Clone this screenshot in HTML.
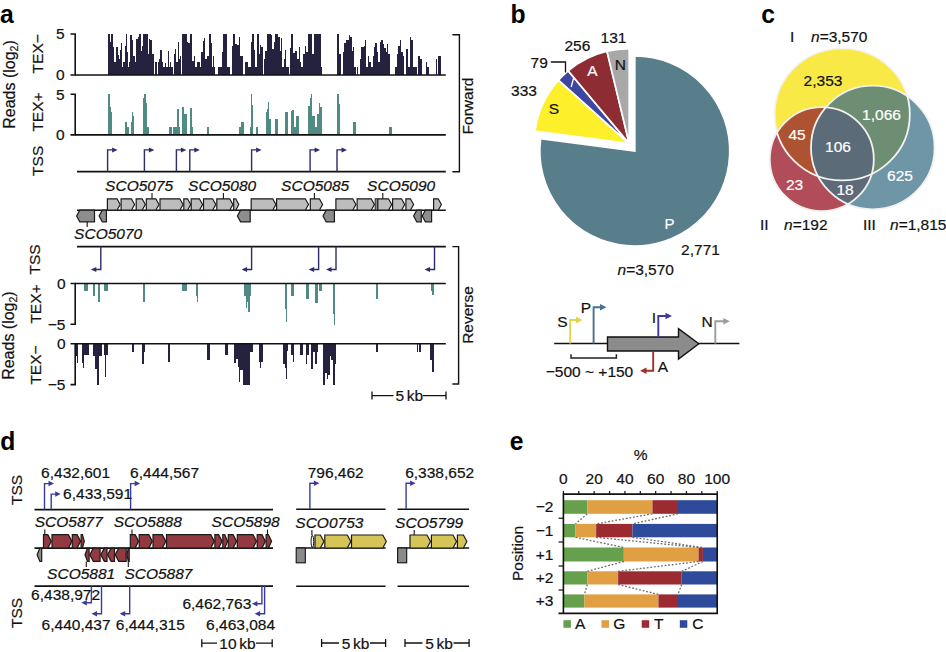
<!DOCTYPE html>
<html><head><meta charset="utf-8"><style>
html,body{margin:0;padding:0;background:#fff;}
svg{display:block;font-family:"Liberation Sans", sans-serif;}
</style></head><body>
<svg width="946" height="652" viewBox="0 0 946 652">
<rect width="946" height="652" fill="#fff"/>
<path d="M108 75.00h1v-41.00h-1zM109 75.00h1v-41.00h-1zM110 75.00h1v-33.46h-1zM111 75.00h1v-40.53h-1zM112 75.00h1v-40.53h-1zM113 75.00h1v-27.80h-1zM114 75.00h1v-13.20h-1zM115 75.00h1v-13.20h-1zM116 75.00h1v-28.28h-1zM117 75.00h1v-28.28h-1zM118 75.00h1v-20.26h-1zM119 75.00h1v-16.49h-1zM120 75.00h1v-25.45h-1zM121 75.00h1v-31.57h-1zM122 75.00h1v-8.01h-1zM123 75.00h1v-13.20h-1zM124 75.00h1v-13.20h-1zM125 75.00h1v-29.22h-1zM126 75.00h1v-41.00h-1zM127 75.00h1v-23.09h-1zM128 75.00h1v-8.01h-1zM129 75.00h1v-12.72h-1zM130 75.00h1v-40.06h-1zM131 75.00h1v-40.06h-1zM132 75.00h1v-35.34h-1zM133 75.00h1v-19.32h-1zM134 75.00h1v-19.32h-1zM135 75.00h1v-12.72h-1zM136 75.00h1v-36.29h-1zM137 75.00h1v-36.29h-1zM138 75.00h1v-38.17h-1zM139 75.00h1v-41.00h-1zM140 75.00h1v-41.00h-1zM141 75.00h1v-24.03h-1zM142 75.00h1v-28.75h-1zM143 75.00h1v-41.00h-1zM144 75.00h1v-41.00h-1zM145 75.00h1v-41.00h-1zM146 75.00h1v-41.00h-1zM147 75.00h1v-41.00h-1zM148 75.00h1v-20.74h-1zM149 75.00h1v-36.29h-1zM150 75.00h1v-35.34h-1zM151 75.00h1v-35.34h-1zM152 75.00h1v-21.21h-1zM153 75.00h1v-21.21h-1zM155 75.00h1v-12.72h-1zM156 75.00h1v-12.72h-1zM158 75.00h1v-13.20h-1zM159 75.00h1v-15.55h-1zM160 75.00h1v-25.45h-1zM161 75.00h1v-25.45h-1zM162 75.00h1v-12.72h-1zM163 75.00h1v-8.01h-1zM164 75.00h1v-8.01h-1zM165 75.00h1v-12.25h-1zM166 75.00h1v-8.01h-1zM167 75.00h1v-8.01h-1zM168 75.00h1v-23.56h-1zM169 75.00h1v-8.01h-1zM170 75.00h1v-12.72h-1zM171 75.00h1v-8.01h-1zM172 75.00h1v-8.01h-1zM174 75.00h1v-21.21h-1zM175 75.00h1v-25.92h-1zM176 75.00h1v-12.72h-1zM177 75.00h1v-12.72h-1zM178 75.00h1v-33.46h-1zM179 75.00h1v-16.49h-1zM180 75.00h1v-19.32h-1zM182 75.00h1v-41.00h-1zM183 75.00h1v-41.00h-1zM184 75.00h1v-41.00h-1zM185 75.00h1v-41.00h-1zM186 75.00h1v-41.00h-1zM187 75.00h1v-33.46h-1zM188 75.00h1v-32.05h-1zM189 75.00h1v-32.05h-1zM190 75.00h1v-41.00h-1zM191 75.00h1v-41.00h-1zM192 75.00h1v-13.67h-1zM193 75.00h1v-13.67h-1zM194 75.00h1v-18.85h-1zM195 75.00h1v-8.01h-1zM196 75.00h1v-8.01h-1zM197 75.00h1v-12.72h-1zM198 75.00h1v-12.72h-1zM199 75.00h1v-12.72h-1zM200 75.00h1v-8.01h-1zM201 75.00h1v-23.09h-1zM202 75.00h1v-23.09h-1zM203 75.00h1v-34.40h-1zM204 75.00h1v-37.23h-1zM205 75.00h1v-16.49h-1zM206 75.00h1v-16.49h-1zM207 75.00h1v-19.32h-1zM208 75.00h1v-19.32h-1zM209 75.00h1v-41.00h-1zM210 75.00h1v-41.00h-1zM211 75.00h1v-31.57h-1zM212 75.00h1v-8.01h-1zM213 75.00h1v-19.32h-1zM214 75.00h1v-8.01h-1zM218 75.00h1v-8.01h-1zM219 75.00h1v-8.01h-1zM220 75.00h1v-8.01h-1zM221 75.00h1v-8.01h-1zM222 75.00h1v-23.09h-1zM223 75.00h1v-41.00h-1zM224 75.00h1v-41.00h-1zM225 75.00h1v-41.00h-1zM226 75.00h1v-41.00h-1zM227 75.00h1v-8.01h-1zM228 75.00h1v-8.01h-1zM229 75.00h1v-8.01h-1zM232 75.00h1v-28.75h-1zM233 75.00h1v-41.00h-1zM234 75.00h1v-41.00h-1zM235 75.00h1v-30.63h-1zM236 75.00h1v-30.63h-1zM237 75.00h1v-30.16h-1zM238 75.00h1v-30.16h-1zM239 75.00h1v-37.70h-1zM240 75.00h1v-19.32h-1zM241 75.00h1v-19.32h-1zM242 75.00h1v-19.32h-1zM245 75.00h1v-12.72h-1zM246 75.00h1v-12.72h-1zM247 75.00h1v-12.72h-1zM248 75.00h1v-8.01h-1zM249 75.00h1v-8.01h-1zM250 75.00h1v-8.01h-1zM251 75.00h1v-32.99h-1zM252 75.00h1v-41.00h-1zM253 75.00h1v-41.00h-1zM254 75.00h1v-24.98h-1zM255 75.00h1v-8.01h-1zM256 75.00h1v-8.01h-1zM257 75.00h1v-41.00h-1zM258 75.00h1v-41.00h-1zM259 75.00h1v-21.21h-1zM260 75.00h1v-29.69h-1zM261 75.00h1v-27.80h-1zM262 75.00h1v-27.80h-1zM264 75.00h1v-15.55h-1zM265 75.00h1v-24.03h-1zM266 75.00h1v-24.03h-1zM267 75.00h1v-41.00h-1zM268 75.00h1v-41.00h-1zM269 75.00h1v-41.00h-1zM270 75.00h1v-41.00h-1zM271 75.00h1v-40.06h-1zM272 75.00h1v-25.92h-1zM273 75.00h1v-25.92h-1zM274 75.00h1v-32.52h-1zM275 75.00h1v-41.00h-1zM276 75.00h1v-41.00h-1zM277 75.00h1v-41.00h-1zM278 75.00h1v-38.17h-1zM279 75.00h1v-38.17h-1zM280 75.00h1v-24.03h-1zM281 75.00h1v-37.23h-1zM282 75.00h1v-8.01h-1zM283 75.00h1v-8.01h-1zM284 75.00h1v-15.55h-1zM285 75.00h1v-25.45h-1zM286 75.00h1v-8.01h-1zM287 75.00h1v-8.01h-1zM288 75.00h1v-8.01h-1zM290 75.00h1v-26.86h-1zM291 75.00h1v-41.00h-1zM292 75.00h1v-41.00h-1zM293 75.00h1v-22.15h-1zM294 75.00h1v-22.15h-1zM295 75.00h1v-24.03h-1zM296 75.00h1v-24.03h-1zM297 75.00h1v-15.55h-1zM298 75.00h1v-15.55h-1zM299 75.00h1v-28.28h-1zM300 75.00h1v-12.72h-1zM301 75.00h1v-8.01h-1zM302 75.00h1v-8.01h-1zM303 75.00h1v-21.21h-1zM304 75.00h1v-21.21h-1zM305 75.00h1v-28.75h-1zM306 75.00h1v-23.09h-1zM307 75.00h1v-23.09h-1zM308 75.00h1v-41.00h-1zM309 75.00h1v-41.00h-1zM310 75.00h1v-41.00h-1zM311 75.00h1v-41.00h-1zM312 75.00h1v-21.21h-1zM313 75.00h1v-21.21h-1zM314 75.00h1v-41.00h-1zM315 75.00h1v-41.00h-1zM316 75.00h1v-41.00h-1zM317 75.00h1v-41.00h-1zM318 75.00h1v-41.00h-1zM319 75.00h1v-41.00h-1zM320 75.00h1v-41.00h-1zM321 75.00h1v-8.01h-1zM337 75.00h1v-41.00h-1zM338 75.00h1v-41.00h-1zM339 75.00h1v-21.21h-1zM340 75.00h1v-21.21h-1zM343 75.00h1v-23.09h-1zM344 75.00h1v-31.57h-1zM345 75.00h1v-31.57h-1zM346 75.00h1v-34.87h-1zM347 75.00h1v-34.87h-1zM348 75.00h1v-34.87h-1zM349 75.00h1v-40.06h-1zM350 75.00h1v-38.17h-1zM351 75.00h1v-38.17h-1zM352 75.00h1v-24.03h-1zM353 75.00h1v-27.80h-1zM354 75.00h1v-8.01h-1zM355 75.00h1v-8.01h-1zM357 75.00h1v-7.59h-1zM360 75.00h1v-15.69h-1zM361 75.00h1v-27.84h-1zM362 75.00h1v-28.35h-1zM363 75.00h1v-28.35h-1zM364 75.00h1v-28.85h-1zM365 75.00h1v-34.93h-1zM366 75.00h1v-7.59h-1zM367 75.00h1v-7.59h-1zM368 75.00h1v-18.73h-1zM369 75.00h1v-12.65h-1zM370 75.00h1v-12.65h-1zM371 75.00h1v-7.59h-1zM372 75.00h1v-7.59h-1zM373 75.00h1v-18.73h-1zM374 75.00h1v-28.35h-1zM375 75.00h1v-31.89h-1zM376 75.00h1v-31.89h-1zM377 75.00h1v-23.28h-1zM378 75.00h1v-12.65h-1zM379 75.00h1v-12.65h-1zM380 75.00h1v-32.90h-1zM381 75.00h1v-35.43h-1zM382 75.00h1v-35.43h-1zM383 75.00h1v-30.88h-1zM384 75.00h1v-27.33h-1zM385 75.00h1v-27.33h-1zM386 75.00h1v-22.78h-1zM387 75.00h1v-31.38h-1zM388 75.00h1v-20.75h-1zM389 75.00h1v-20.75h-1zM395 75.00h1v-7.59h-1zM396 75.00h1v-7.59h-1zM397 75.00h1v-20.75h-1zM398 75.00h1v-28.85h-1zM399 75.00h1v-28.85h-1zM400 75.00h1v-35.43h-1zM401 75.00h1v-23.28h-1zM402 75.00h1v-23.28h-1zM403 75.00h1v-18.73h-1zM406 75.00h1v-25.81h-1zM407 75.00h1v-25.81h-1zM408 75.00h1v-7.59h-1zM409 75.00h1v-7.59h-1zM410 75.00h1v-37.96h-1zM411 75.00h1v-34.93h-1zM412 75.00h1v-34.93h-1zM413 75.00h1v-7.59h-1zM414 75.00h1v-7.59h-1zM415 75.00h1v-7.59h-1zM416 75.00h1v-7.59h-1zM418 75.00h1v-18.73h-1zM419 75.00h1v-18.73h-1zM420 75.00h1v-15.69h-1zM421 75.00h1v-15.69h-1zM426 75.00h1v-12.65h-1zM427 75.00h1v-7.59h-1zM428 75.00h1v-7.59h-1zM436 75.00h1v-15.69h-1zM438 75.00h1v-18.73h-1zM439 75.00h1v-18.73h-1zM440 75.00h1v-18.73h-1z" fill="#24223f" shape-rendering="crispEdges"/>
<path d="M108 134.90h1v-41.00h-1zM109 134.90h1v-41.00h-1zM110 134.90h1v-27.75h-1zM111 134.90h1v-23.34h-1zM125 134.90h1v-12.62h-1zM126 134.90h1v-12.62h-1zM127 134.90h1v-7.57h-1zM128 134.90h1v-7.57h-1zM131 134.90h1v-12.62h-1zM132 134.90h1v-23.34h-1zM133 134.90h1v-18.92h-1zM143 134.90h1v-36.58h-1zM144 134.90h1v-41.00h-1zM145 134.90h1v-41.00h-1zM146 134.90h1v-32.17h-1zM147 134.90h1v-7.57h-1zM148 134.90h1v-7.57h-1zM169 134.90h1v-7.57h-1zM170 134.90h1v-7.57h-1zM171 134.90h1v-7.57h-1zM173 134.90h1v-7.57h-1zM174 134.90h1v-7.57h-1zM175 134.90h1v-7.57h-1zM176 134.90h1v-7.57h-1zM177 134.90h1v-25.86h-1zM178 134.90h1v-25.86h-1zM179 134.90h1v-7.57h-1zM182 134.90h1v-27.75h-1zM183 134.90h1v-27.75h-1zM184 134.90h1v-20.82h-1zM185 134.90h1v-20.82h-1zM186 134.90h1v-20.82h-1zM190 134.90h1v-27.12h-1zM191 134.90h1v-27.12h-1zM192 134.90h1v-7.57h-1zM207 134.90h1v-7.57h-1zM208 134.90h1v-7.57h-1zM239 134.90h1v-7.57h-1zM240 134.90h1v-7.57h-1zM241 134.90h1v-12.62h-1zM242 134.90h1v-12.62h-1zM243 134.90h1v-12.62h-1zM250 134.90h1v-7.57h-1zM251 134.90h1v-41.00h-1zM252 134.90h1v-30.28h-1zM256 134.90h1v-7.57h-1zM257 134.90h1v-7.57h-1zM266 134.90h1v-23.34h-1zM267 134.90h1v-25.86h-1zM268 134.90h1v-32.80h-1zM269 134.90h1v-15.77h-1zM270 134.90h1v-15.77h-1zM275 134.90h1v-15.77h-1zM276 134.90h1v-15.77h-1zM277 134.90h1v-15.77h-1zM285 134.90h1v-22.71h-1zM286 134.90h1v-22.71h-1zM287 134.90h1v-22.71h-1zM291 134.90h1v-23.97h-1zM292 134.90h1v-25.23h-1zM293 134.90h1v-25.23h-1zM294 134.90h1v-7.57h-1zM295 134.90h1v-7.57h-1zM296 134.90h1v-18.92h-1zM297 134.90h1v-18.92h-1zM298 134.90h1v-18.92h-1zM308 134.90h1v-29.02h-1zM309 134.90h1v-29.02h-1zM310 134.90h1v-37.22h-1zM311 134.90h1v-41.00h-1zM312 134.90h1v-18.92h-1zM313 134.90h1v-18.92h-1zM314 134.90h1v-18.92h-1zM315 134.90h1v-8.20h-1zM316 134.90h1v-8.20h-1zM317 134.90h1v-20.82h-1zM318 134.90h1v-20.82h-1zM319 134.90h1v-32.17h-1zM320 134.90h1v-27.75h-1zM321 134.90h1v-27.75h-1zM337 134.90h1v-41.00h-1zM338 134.90h1v-41.00h-1zM339 134.90h1v-30.91h-1zM353 134.90h1v-12.62h-1zM354 134.90h1v-12.62h-1zM355 134.90h1v-12.62h-1zM389 134.90h1v-7.57h-1zM390 134.90h1v-7.57h-1zM391 134.90h1v-7.57h-1z" fill="#4f8a83" shape-rendering="crispEdges"/>
<path d="M84 283.50h1v7.86h-1zM85 283.50h1v7.86h-1zM86 283.50h1v7.86h-1zM87 283.50h1v7.86h-1zM93 283.50h1v12.29h-1zM94 283.50h1v12.29h-1zM98 283.50h1v18.63h-1zM99 283.50h1v18.63h-1zM104 283.50h1v7.86h-1zM105 283.50h1v7.86h-1zM106 283.50h1v7.86h-1zM107 283.50h1v7.86h-1zM143 283.50h1v18.63h-1zM144 283.50h1v18.63h-1zM182 283.50h1v7.86h-1zM183 283.50h1v7.86h-1zM184 283.50h1v7.86h-1zM185 283.50h1v7.86h-1zM186 283.50h1v7.86h-1zM196 283.50h1v12.29h-1zM197 283.50h1v18.63h-1zM244 283.50h1v12.29h-1zM245 283.50h1v12.29h-1zM246 283.50h1v24.33h-1zM247 283.50h1v18.63h-1zM248 283.50h1v28.13h-1zM249 283.50h1v28.13h-1zM250 283.50h1v12.29h-1zM285 283.50h1v25.60h-1zM286 283.50h1v38.90h-1zM291 283.50h1v12.29h-1zM292 283.50h1v12.29h-1zM293 283.50h1v12.29h-1zM306 283.50h1v15.88h-1zM307 283.50h1v15.88h-1zM308 283.50h1v15.88h-1zM315 283.50h1v19.84h-1zM316 283.50h1v19.84h-1zM317 283.50h1v19.84h-1zM319 283.50h1v7.94h-1zM320 283.50h1v7.94h-1zM321 283.50h1v7.94h-1zM333 283.50h1v30.96h-1zM334 283.50h1v41.28h-1zM376 283.50h1v15.88h-1zM377 283.50h1v15.88h-1zM431 283.50h1v7.94h-1zM432 283.50h1v11.91h-1zM433 283.50h1v11.91h-1z" fill="#4f8a83" shape-rendering="crispEdges"/>
<path d="M75 343.80h1v12.16h-1zM76 343.80h1v12.16h-1zM77 343.80h1v19.03h-1zM82 343.80h1v19.03h-1zM83 343.80h1v24.31h-1zM84 343.80h1v11.63h-1zM85 343.80h1v11.63h-1zM86 343.80h1v11.63h-1zM87 343.80h1v11.63h-1zM88 343.80h1v11.63h-1zM93 343.80h1v12.69h-1zM94 343.80h1v12.69h-1zM95 343.80h1v24.84h-1zM96 343.80h1v24.84h-1zM97 343.80h1v41.23h-1zM98 343.80h1v41.23h-1zM99 343.80h1v12.16h-1zM100 343.80h1v12.16h-1zM101 343.80h1v12.16h-1zM104 343.80h1v11.63h-1zM105 343.80h1v32.77h-1zM106 343.80h1v11.63h-1zM107 343.80h1v11.63h-1zM132 343.80h1v7.93h-1zM133 343.80h1v7.93h-1zM142 343.80h1v20.09h-1zM143 343.80h1v20.09h-1zM144 343.80h1v7.93h-1zM168 343.80h1v18.50h-1zM169 343.80h1v18.50h-1zM207 343.80h1v15.86h-1zM208 343.80h1v15.86h-1zM209 343.80h1v15.86h-1zM225 343.80h1v11.63h-1zM226 343.80h1v11.63h-1zM227 343.80h1v11.63h-1zM234 343.80h1v19.56h-1zM235 343.80h1v19.56h-1zM236 343.80h1v15.33h-1zM237 343.80h1v15.33h-1zM238 343.80h1v22.73h-1zM239 343.80h1v38.59h-1zM240 343.80h1v25.90h-1zM241 343.80h1v25.90h-1zM242 343.80h1v25.90h-1zM243 343.80h1v41.23h-1zM244 343.80h1v41.23h-1zM245 343.80h1v41.23h-1zM246 343.80h1v41.23h-1zM247 343.80h1v41.23h-1zM248 343.80h1v41.23h-1zM249 343.80h1v41.23h-1zM250 343.80h1v7.93h-1zM251 343.80h1v7.93h-1zM252 343.80h1v7.93h-1zM259 343.80h1v17.97h-1zM260 343.80h1v23.79h-1zM261 343.80h1v17.97h-1zM262 343.80h1v17.97h-1zM283 343.80h1v20.61h-1zM284 343.80h1v20.61h-1zM285 343.80h1v24.31h-1zM286 343.80h1v34.89h-1zM287 343.80h1v7.40h-1zM291 343.80h1v11.63h-1zM292 343.80h1v11.63h-1zM293 343.80h1v18.50h-1zM300 343.80h1v11.63h-1zM301 343.80h1v11.63h-1zM302 343.80h1v11.63h-1zM306 343.80h1v20.09h-1zM307 343.80h1v11.63h-1zM308 343.80h1v11.63h-1zM311 343.80h1v24.84h-1zM312 343.80h1v24.84h-1zM313 343.80h1v7.93h-1zM314 343.80h1v7.93h-1zM315 343.80h1v20.09h-1zM316 343.80h1v20.09h-1zM317 343.80h1v7.93h-1zM323 343.80h1v41.23h-1zM324 343.80h1v41.23h-1zM325 343.80h1v29.60h-1zM326 343.80h1v29.60h-1zM327 343.80h1v34.89h-1zM328 343.80h1v31.19h-1zM329 343.80h1v31.19h-1zM330 343.80h1v12.69h-1zM331 343.80h1v16.39h-1zM332 343.80h1v16.39h-1zM333 343.80h1v41.23h-1zM334 343.80h1v41.23h-1zM335 343.80h1v20.09h-1zM376 343.80h1v7.93h-1zM377 343.80h1v7.93h-1zM417 343.80h1v7.93h-1zM419 343.80h1v7.93h-1zM420 343.80h1v7.93h-1zM430 343.80h1v15.86h-1zM431 343.80h1v15.86h-1zM432 343.80h1v28.01h-1zM433 343.80h1v28.01h-1z" fill="#24223f" shape-rendering="crispEdges"/>
<path d="M70.5 34.0 H75.2 V75.0 H70.5" fill="none" stroke="#111" stroke-width="1.6"/>
<text x="64.5" y="39.3" font-size="15.5" text-anchor="end" fill="#111" stroke="#111" stroke-width="0.2"  style="">5</text>
<text x="64.5" y="80.3" font-size="15.5" text-anchor="end" fill="#111" stroke="#111" stroke-width="0.2"  style="">0</text>
<path d="M70.5 94.3 H75.2 V134.9 H70.5" fill="none" stroke="#111" stroke-width="1.6"/>
<text x="64.5" y="99.6" font-size="15.5" text-anchor="end" fill="#111" stroke="#111" stroke-width="0.2"  style="">5</text>
<text x="64.5" y="140.20000000000002" font-size="15.5" text-anchor="end" fill="#111" stroke="#111" stroke-width="0.2"  style="">0</text>
<path d="M70.5 283.5 H75.2 V324.3 H70.5" fill="none" stroke="#111" stroke-width="1.6"/>
<text x="65.5" y="288.8" font-size="15.5" text-anchor="end" fill="#111" stroke="#111" stroke-width="0.2"  style="">0</text>
<text x="65.5" y="329.6" font-size="15.5" text-anchor="end" fill="#111" stroke="#111" stroke-width="0.2"  style="">−5</text>
<path d="M70.5 343.8 H75.2 V384.6 H70.5" fill="none" stroke="#111" stroke-width="1.6"/>
<text x="65.5" y="349.1" font-size="15.5" text-anchor="end" fill="#111" stroke="#111" stroke-width="0.2"  style="">0</text>
<text x="65.5" y="389.90000000000003" font-size="15.5" text-anchor="end" fill="#111" stroke="#111" stroke-width="0.2"  style="">−5</text>
<line x1="75.2" y1="75.0" x2="445.8" y2="75.0" stroke="#111" stroke-width="1.6" />
<line x1="75.2" y1="134.9" x2="445.8" y2="134.9" stroke="#111" stroke-width="1.6" />
<line x1="75.2" y1="283.5" x2="445.8" y2="283.5" stroke="#111" stroke-width="1.6" />
<line x1="75.2" y1="343.8" x2="445.8" y2="343.8" stroke="#111" stroke-width="1.6" />
<line x1="77" y1="171.6" x2="445.8" y2="171.6" stroke="#111" stroke-width="1.6" />
<line x1="77" y1="246.6" x2="445.8" y2="246.6" stroke="#111" stroke-width="1.6" />
<line x1="77" y1="210.2" x2="445.8" y2="210.2" stroke="#111" stroke-width="1.6" />
<path d="M107.6 171.6 V149.9 H112.6" fill="none" stroke="#2c2b6c" stroke-width="1.4"/>
<path d="M112.1 147.4 L117.6 149.9 L112.1 152.4 Z" fill="#2c2b6c"/>
<path d="M144.4 171.6 V149.9 H149.4" fill="none" stroke="#2c2b6c" stroke-width="1.4"/>
<path d="M148.9 147.4 L154.4 149.9 L148.9 152.4 Z" fill="#2c2b6c"/>
<path d="M176.4 171.6 V149.9 H181.4" fill="none" stroke="#2c2b6c" stroke-width="1.4"/>
<path d="M180.9 147.4 L186.4 149.9 L180.9 152.4 Z" fill="#2c2b6c"/>
<path d="M189.8 171.6 V149.9 H194.8" fill="none" stroke="#2c2b6c" stroke-width="1.4"/>
<path d="M194.3 147.4 L199.8 149.9 L194.3 152.4 Z" fill="#2c2b6c"/>
<path d="M251.6 171.6 V149.9 H256.6" fill="none" stroke="#2c2b6c" stroke-width="1.4"/>
<path d="M256.1 147.4 L261.6 149.9 L256.1 152.4 Z" fill="#2c2b6c"/>
<path d="M310.1 171.6 V149.9 H315.1" fill="none" stroke="#2c2b6c" stroke-width="1.4"/>
<path d="M314.6 147.4 L320.1 149.9 L314.6 152.4 Z" fill="#2c2b6c"/>
<path d="M337.0 171.6 V149.9 H342.0" fill="none" stroke="#2c2b6c" stroke-width="1.4"/>
<path d="M341.5 147.4 L347.0 149.9 L341.5 152.4 Z" fill="#2c2b6c"/>
<path d="M100.8 246.6 V269.5 H95.8" fill="none" stroke="#2c2b6c" stroke-width="1.4"/>
<path d="M96.3 267.0 L90.8 269.5 L96.3 272.0 Z" fill="#2c2b6c"/>
<path d="M251.6 246.6 V269.5 H246.6" fill="none" stroke="#2c2b6c" stroke-width="1.4"/>
<path d="M247.1 267.0 L241.6 269.5 L247.1 272.0 Z" fill="#2c2b6c"/>
<path d="M318.6 246.6 V269.5 H313.6" fill="none" stroke="#2c2b6c" stroke-width="1.4"/>
<path d="M314.1 267.0 L308.6 269.5 L314.1 272.0 Z" fill="#2c2b6c"/>
<path d="M336.0 246.6 V269.5 H331.0" fill="none" stroke="#2c2b6c" stroke-width="1.4"/>
<path d="M331.5 267.0 L326.0 269.5 L331.5 272.0 Z" fill="#2c2b6c"/>
<path d="M434.5 246.6 V269.5 H429.5" fill="none" stroke="#2c2b6c" stroke-width="1.4"/>
<path d="M430.0 267.0 L424.5 269.5 L430.0 272.0 Z" fill="#2c2b6c"/>
<path d="M107.4 198.8 H117.0 L120.2 204.5 L117.0 210.2 H107.4 Z" fill="#bdbdbd" stroke="#1a1a1a" stroke-width="1.2" stroke-linejoin="miter"/>
<path d="M121.1 198.8 H131.4 L134.6 204.5 L131.4 210.2 H121.1 Z" fill="#bdbdbd" stroke="#1a1a1a" stroke-width="1.2" stroke-linejoin="miter"/>
<path d="M136.2 198.8 H142.1 L145.3 204.5 L142.1 210.2 H136.2 Z" fill="#bdbdbd" stroke="#1a1a1a" stroke-width="1.2" stroke-linejoin="miter"/>
<path d="M146.3 198.8 H155.8 L159.0 204.5 L155.8 210.2 H146.3 Z" fill="#bdbdbd" stroke="#1a1a1a" stroke-width="1.2" stroke-linejoin="miter"/>
<path d="M160.0 198.8 H179.8 L183.0 204.5 L179.8 210.2 H160.0 Z" fill="#bdbdbd" stroke="#1a1a1a" stroke-width="1.2" stroke-linejoin="miter"/>
<path d="M183.8 198.8 H187.5 L190.7 204.5 L187.5 210.2 H183.8 Z" fill="#bdbdbd" stroke="#1a1a1a" stroke-width="1.2" stroke-linejoin="miter"/>
<path d="M191.2 198.8 H199.4 L202.6 204.5 L199.4 210.2 H191.2 Z" fill="#bdbdbd" stroke="#1a1a1a" stroke-width="1.2" stroke-linejoin="miter"/>
<path d="M203.5 198.8 H212.6 L215.8 204.5 L212.6 210.2 H203.5 Z" fill="#bdbdbd" stroke="#1a1a1a" stroke-width="1.2" stroke-linejoin="miter"/>
<path d="M216.8 198.8 H229.7 L232.9 204.5 L229.7 210.2 H216.8 Z" fill="#bdbdbd" stroke="#1a1a1a" stroke-width="1.2" stroke-linejoin="miter"/>
<path d="M233.7 198.8 H235.7 L238.8 204.5 L235.7 210.2 H233.7 Z" fill="#bdbdbd" stroke="#1a1a1a" stroke-width="1.2" stroke-linejoin="miter"/>
<path d="M251.2 198.8 H272.7 L275.9 204.5 L272.7 210.2 H251.2 Z" fill="#bdbdbd" stroke="#1a1a1a" stroke-width="1.2" stroke-linejoin="miter"/>
<path d="M276.6 198.8 H305.3 L308.5 204.5 L305.3 210.2 H276.6 Z" fill="#bdbdbd" stroke="#1a1a1a" stroke-width="1.2" stroke-linejoin="miter"/>
<path d="M310.3 198.8 H319.4 L322.6 204.5 L319.4 210.2 H310.3 Z" fill="#bdbdbd" stroke="#1a1a1a" stroke-width="1.2" stroke-linejoin="miter"/>
<path d="M335.9 198.8 H352.7 L355.9 204.5 L352.7 210.2 H335.9 Z" fill="#bdbdbd" stroke="#1a1a1a" stroke-width="1.2" stroke-linejoin="miter"/>
<path d="M357.1 198.8 H371.2 L374.4 204.5 L371.2 210.2 H357.1 Z" fill="#bdbdbd" stroke="#1a1a1a" stroke-width="1.2" stroke-linejoin="miter"/>
<path d="M377.8 198.8 H388.5 L391.7 204.5 L388.5 210.2 H377.8 Z" fill="#bdbdbd" stroke="#1a1a1a" stroke-width="1.2" stroke-linejoin="miter"/>
<path d="M392.6 198.8 H401.5 L404.7 204.5 L401.5 210.2 H392.6 Z" fill="#bdbdbd" stroke="#1a1a1a" stroke-width="1.2" stroke-linejoin="miter"/>
<path d="M405.9 198.8 H410.4 L413.6 204.5 L410.4 210.2 H405.9 Z" fill="#bdbdbd" stroke="#1a1a1a" stroke-width="1.2" stroke-linejoin="miter"/>
<path d="M433.6 198.8 H438.2 L441.4 204.5 L438.2 210.2 H433.6 Z" fill="#bdbdbd" stroke="#1a1a1a" stroke-width="1.2" stroke-linejoin="miter"/>
<rect x="375.2" y="198.8" width="2" height="11.4" fill="#bdbdbd" stroke="#1a1a1a" stroke-width="1"/>
<path d="M94.5 210.2 H79.8 L76.6 216.0 L79.8 221.8 H94.5 Z" fill="#8d8d8d" stroke="#1a1a1a" stroke-width="1.2" stroke-linejoin="miter"/>
<path d="M106.4 210.2 H102.3 L99.1 216.0 L102.3 221.8 H106.4 Z" fill="#8d8d8d" stroke="#1a1a1a" stroke-width="1.2" stroke-linejoin="miter"/>
<path d="M250.2 210.2 H240.6 L237.4 216.0 L240.6 221.8 H250.2 Z" fill="#8d8d8d" stroke="#1a1a1a" stroke-width="1.2" stroke-linejoin="miter"/>
<path d="M334.4 210.2 H326.2 L323.0 216.0 L326.2 221.8 H334.4 Z" fill="#8d8d8d" stroke="#1a1a1a" stroke-width="1.2" stroke-linejoin="miter"/>
<path d="M421.3 210.2 H416.8 L413.6 216.0 L416.8 221.8 H421.3 Z" fill="#8d8d8d" stroke="#1a1a1a" stroke-width="1.2" stroke-linejoin="miter"/>
<path d="M431.6 210.2 H425.4 L422.2 216.0 L425.4 221.8 H431.6 Z" fill="#8d8d8d" stroke="#1a1a1a" stroke-width="1.2" stroke-linejoin="miter"/>
<line x1="152.0" y1="193" x2="152.0" y2="198.8" stroke="#111" stroke-width="1.1" />
<line x1="223.4" y1="193" x2="223.4" y2="198.8" stroke="#111" stroke-width="1.1" />
<line x1="314.4" y1="193" x2="314.4" y2="198.8" stroke="#111" stroke-width="1.1" />
<line x1="382.8" y1="193" x2="382.8" y2="198.8" stroke="#111" stroke-width="1.1" />
<line x1="87.2" y1="221.8" x2="87.2" y2="227" stroke="#111" stroke-width="1.1" />
<text x="105.1" y="190.5" font-size="15.5" text-anchor="start" fill="#111" stroke="#111" stroke-width="0.2"  style="font-style:italic">SCO5075</text>
<text x="188.1" y="190.5" font-size="15.5" text-anchor="start" fill="#111" stroke="#111" stroke-width="0.2"  style="font-style:italic">SCO5080</text>
<text x="281.1" y="190.5" font-size="15.5" text-anchor="start" fill="#111" stroke="#111" stroke-width="0.2"  style="font-style:italic">SCO5085</text>
<text x="367.1" y="190.5" font-size="15.5" text-anchor="start" fill="#111" stroke="#111" stroke-width="0.2"  style="font-style:italic">SCO5090</text>
<text x="74.1" y="239.3" font-size="15.5" text-anchor="start" fill="#111" stroke="#111" stroke-width="0.2"  style="font-style:italic">SCO5070</text>
<path d="M452.4 34.8 H459.4 V171.8 H452.4" fill="none" stroke="#111" stroke-width="1.4"/>
<path d="M452.4 246.6 H458.6 V384 H452.4" fill="none" stroke="#111" stroke-width="1.4"/>
<text x="0" y="0" font-size="15.5" text-anchor="middle" fill="#111" stroke="#111" stroke-width="0.2" transform="translate(473.3 106) rotate(-90)" style="">Forward</text>
<text x="0" y="0" font-size="15.5" text-anchor="middle" fill="#111" stroke="#111" stroke-width="0.2" transform="translate(473 315) rotate(-90)" style="">Reverse</text>
<path d="M372 395.6 H393.5 M423 395.6 H446 M372 391.6 V399.6 M446 391.6 V399.6" stroke="#111" stroke-width="1.3" fill="none"/>
<text x="409.25" y="401.1" font-size="15.5" text-anchor="middle" fill="#111" stroke="#111" stroke-width="0.2"  style="">5 <tspan dx="-1.6">kb</tspan></text>
<text x="0" y="0" font-size="15.5" text-anchor="middle" fill="#111" stroke="#111" stroke-width="0.2" transform="translate(43 53.8) rotate(-90)" style="">TEX−</text>
<text x="0" y="0" font-size="15.5" text-anchor="middle" fill="#111" stroke="#111" stroke-width="0.2" transform="translate(43 112) rotate(-90)" style="">TEX+</text>
<text x="0" y="0" font-size="15.5" text-anchor="middle" fill="#111" stroke="#111" stroke-width="0.2" transform="translate(43 160.8) rotate(-90)" style="">TSS</text>
<text x="0" y="0" font-size="15.5" text-anchor="middle" fill="#111" stroke="#111" stroke-width="0.2" transform="translate(40 259.5) rotate(-90)" style="">TSS</text>
<text x="0" y="0" font-size="15.5" text-anchor="middle" fill="#111" stroke="#111" stroke-width="0.2" transform="translate(40.5 304) rotate(-90)" style="">TEX+</text>
<text x="0" y="0" font-size="15.5" text-anchor="middle" fill="#111" stroke="#111" stroke-width="0.2" transform="translate(41 365) rotate(-90)" style="">TEX−</text>
<text x="0" y="0" font-size="16" text-anchor="middle" fill="#111" stroke="#111" stroke-width="0.2" transform="translate(14.6 84.5) rotate(-90)" style="">Reads (log<tspan font-size="10.5" dy="3">2</tspan><tspan dy="-3">)</tspan></text>
<text x="0" y="0" font-size="16" text-anchor="middle" fill="#111" stroke="#111" stroke-width="0.2" transform="translate(14.1 335.6) rotate(-90)" style="">Reads (log<tspan font-size="10.5" dy="3">2</tspan><tspan dy="-3">)</tspan></text>
<text transform="translate(0.0 22.7) scale(0.95 1)" font-size="26" font-weight="bold" fill="#000">a</text>
<text transform="translate(510.4 22.7) scale(0.95 1)" font-size="26" font-weight="bold" fill="#000">b</text>
<text transform="translate(761.3 22.7) scale(0.95 1)" font-size="26" font-weight="bold" fill="#000">c</text>
<text transform="translate(0.3 450.0) scale(0.95 1)" font-size="26" font-weight="bold" fill="#000">d</text>
<text transform="translate(509.8 450.0) scale(0.95 1)" font-size="26" font-weight="bold" fill="#000">e</text>
<path d="M634.80 151.00 L634.80 56.00 A95.0 95.0 0 1 1 540.61 138.60 Z" fill="#587d8b" stroke="#fff" stroke-width="1.7" stroke-linejoin="miter"/>
<path d="M629.20 143.60 L535.01 131.20 A95.0 95.0 0 0 1 558.47 80.18 Z" fill="#fdef2a" stroke="#fff" stroke-width="1.7" stroke-linejoin="miter"/>
<path d="M629.20 143.60 L558.47 80.18 A95.0 95.0 0 0 1 568.19 70.78 Z" fill="#3e47a0" stroke="#fff" stroke-width="1.7" stroke-linejoin="miter"/>
<path d="M629.20 143.60 L568.19 70.78 A95.0 95.0 0 0 1 606.98 51.24 Z" fill="#8e2c34" stroke="#fff" stroke-width="1.7" stroke-linejoin="miter"/>
<path d="M629.20 143.60 L606.98 51.24 A95.0 95.0 0 0 1 629.20 48.60 Z" fill="#a8a8a8" stroke="#fff" stroke-width="1.7" stroke-linejoin="miter"/>
<text x="669.5" y="229" font-size="15" text-anchor="middle" fill="#fff" stroke="#fff" stroke-width="0.2"  style="">P</text>
<text x="681.1" y="254.5" font-size="15.5" text-anchor="start" fill="#111" stroke="#111" stroke-width="0.2"  style="">2,771</text>
<text x="617.5" y="275" font-size="15.5" fill="#111" stroke="#111" stroke-width="0.2"><tspan style="font-style:italic">n</tspan>=3,570</text>
<text x="553.8" y="113.5" font-size="15.5" text-anchor="middle" fill="#111" stroke="#111" stroke-width="0.2"  style="">S</text>
<text x="592.5" y="76.3" font-size="15.5" text-anchor="middle" fill="#fff" stroke="#fff" stroke-width="0.2"  style="">A</text>
<text x="620.4" y="69.8" font-size="15.5" text-anchor="middle" fill="#111" stroke="#111" stroke-width="0.2"  style="">N</text>
<line x1="573.5" y1="78.5" x2="571.2" y2="87" stroke="#fff" stroke-width="1.3"/>
<text x="511.1" y="95.7" font-size="15.5" text-anchor="start" fill="#111" stroke="#111" stroke-width="0.2"  style="">333</text>
<text x="530.6" y="67.7" font-size="15.5" text-anchor="start" fill="#111" stroke="#111" stroke-width="0.2"  style="">79</text>
<text x="564.4" y="51.1" font-size="15.5" text-anchor="start" fill="#111" stroke="#111" stroke-width="0.2"  style="">256</text>
<text x="600.6" y="43.2" font-size="15.5" text-anchor="start" fill="#111" stroke="#111" stroke-width="0.2"  style="">131</text>
<path d="M550.8 62 H565.5 V72.6" fill="none" stroke="#111" stroke-width="1.3"/>
<line x1="554.2" y1="343.5" x2="739.4" y2="343.5" stroke="#111" stroke-width="1.6" />
<path d="M607.5 337 H678.5 V328.6 L698.8 343.8 L678.5 359 V351 H607.5 Z" fill="#8c8c8c" stroke="#111" stroke-width="1.4"/>
<path d="M570.2 343.5 V320 H577" fill="none" stroke="#e3d14c" stroke-width="1.9"/>
<path d="M576 316.7 L582.5 320 L576 323.3 Z" fill="#e3d14c"/>
<path d="M593.6 343.5 V307.2 H601" fill="none" stroke="#48708f" stroke-width="1.9"/>
<path d="M600 303.9 L606.5 307.2 L600 310.5 Z" fill="#48708f"/>
<path d="M658.3 337 V316 H666.5" fill="none" stroke="#40389a" stroke-width="1.9"/>
<path d="M665.5 312.7 L672.0 316 L665.5 319.3 Z" fill="#40389a"/>
<path d="M715.3 343.5 V321.2 H724.3" fill="none" stroke="#9c9c9c" stroke-width="1.9"/>
<path d="M723.3 317.9 L729.8 321.2 L723.3 324.5 Z" fill="#9c9c9c"/>
<path d="M653.2 351 V370.7 H646" fill="none" stroke="#a3302f" stroke-width="1.9"/>
<path d="M646.5 367.4 L640 370.7 L646.5 374 Z" fill="#a3302f"/>
<text x="562.5" y="327" font-size="15.5" text-anchor="middle" fill="#111" stroke="#111" stroke-width="0.2"  style="">S</text>
<text x="586" y="313" font-size="15.5" text-anchor="middle" fill="#111" stroke="#111" stroke-width="0.2"  style="">P</text>
<text x="654" y="323" font-size="15.5" text-anchor="middle" fill="#111" stroke="#111" stroke-width="0.2"  style="">I</text>
<text x="707" y="327" font-size="15.5" text-anchor="middle" fill="#111" stroke="#111" stroke-width="0.2"  style="">N</text>
<text x="663" y="372" font-size="15.5" text-anchor="middle" fill="#111" stroke="#111" stroke-width="0.2"  style="">A</text>
<path d="M571 354.3 V358 H616.4 V354.3" fill="none" stroke="#222" stroke-width="1.5"/>
<text x="589.5" y="376.5" font-size="15.5" text-anchor="middle" fill="#111" stroke="#111" stroke-width="0.2"  style="">−500 ~ +150</text>
<ellipse cx="842.2" cy="114.4" rx="67.6" ry="66" fill="#f8e947"/>
<defs><clipPath id="cY"><ellipse cx="842.2" cy="114.4" rx="67.6" ry="66"/></clipPath><clipPath id="cR"><circle cx="821.8" cy="159.2" r="52" /></clipPath></defs>
<circle cx="821.8" cy="159.2" r="52" fill="#b04d59"/>
<circle cx="872.8" cy="147.5" r="61.8" fill="#6e96a6"/>
<g clip-path="url(#cY)"><circle cx="821.8" cy="159.2" r="52" fill="#ad5331"/><circle cx="872.8" cy="147.5" r="61.8" fill="#6e8e73"/></g>
<g clip-path="url(#cR)"><circle cx="872.8" cy="147.5" r="61.8" fill="#5e6a7a"/></g>
<g clip-path="url(#cY)"><g clip-path="url(#cR)"><circle cx="872.8" cy="147.5" r="61.8" fill="#5b6b78"/></g></g>
<ellipse cx="842.2" cy="114.4" rx="67.6" ry="66" fill="none" stroke="#f3f3ef" stroke-width="1.8"/>
<circle cx="821.8" cy="159.2" r="52" fill="none" stroke="#f3f0ee" stroke-width="1.8"/>
<circle cx="872.8" cy="147.5" r="61.8" fill="none" stroke="#f0f2f2" stroke-width="1.8"/>
<text x="823" y="85.6" font-size="15.5" text-anchor="middle" fill="#111" stroke="#111" stroke-width="0.2"  style="">2,353</text>
<text x="881.5" y="120" font-size="15.5" text-anchor="middle" fill="#fff" stroke="#fff" stroke-width="0.2"  style="">1,066</text>
<text x="797" y="140" font-size="15.5" text-anchor="middle" fill="#fff" stroke="#fff" stroke-width="0.2"  style="">45</text>
<text x="838" y="151.8" font-size="15.5" text-anchor="middle" fill="#fff" stroke="#fff" stroke-width="0.2"  style="">106</text>
<text x="900" y="181.4" font-size="15.5" text-anchor="middle" fill="#fff" stroke="#fff" stroke-width="0.2"  style="">625</text>
<text x="794.5" y="189.7" font-size="15.5" text-anchor="middle" fill="#fff" stroke="#fff" stroke-width="0.2"  style="">23</text>
<text x="845" y="195" font-size="15.5" text-anchor="middle" fill="#fff" stroke="#fff" stroke-width="0.2"  style="">18</text>
<text x="790" y="41.5" font-size="15.5" fill="#111" stroke="#111" stroke-width="0.2">I<tspan x="811" style="font-style:italic">n</tspan>=3,570</text>
<text x="760" y="230" font-size="15.5" fill="#111" stroke="#111" stroke-width="0.2">II<tspan x="784" style="font-style:italic">n</tspan>=192</text>
<text x="863" y="230" font-size="15.5" fill="#111" stroke="#111" stroke-width="0.2">III<tspan x="890" style="font-style:italic">n</tspan>=1,815</text>
<line x1="34.5" y1="509.6" x2="273" y2="509.6" stroke="#111" stroke-width="1.6" />
<line x1="34.5" y1="548.1" x2="273" y2="548.1" stroke="#111" stroke-width="1.6" />
<line x1="34.5" y1="586.1" x2="273" y2="586.1" stroke="#111" stroke-width="1.6" />
<line x1="296.2" y1="509.2" x2="385.6" y2="509.2" stroke="#111" stroke-width="1.6" />
<line x1="296.2" y1="548" x2="385.6" y2="548" stroke="#111" stroke-width="1.6" />
<line x1="296.2" y1="586.2" x2="385.6" y2="586.2" stroke="#111" stroke-width="1.6" />
<line x1="397.6" y1="509.2" x2="469.1" y2="509.2" stroke="#111" stroke-width="1.6" />
<line x1="397.6" y1="548" x2="469.1" y2="548" stroke="#111" stroke-width="1.6" />
<line x1="397.6" y1="586.2" x2="469.1" y2="586.2" stroke="#111" stroke-width="1.6" />
<path d="M44.5 509.6 V483.6 H49.0" fill="none" stroke="#3b3b9b" stroke-width="1.4"/>
<path d="M48.5 480.85 L54.0 483.6 L48.5 486.35 Z" fill="#3b3b9b"/>
<path d="M51.2 509.6 V494.1 H55.7" fill="none" stroke="#3b3b9b" stroke-width="1.4"/>
<path d="M55.2 491.35 L60.7 494.1 L55.2 496.85 Z" fill="#3b3b9b"/>
<path d="M130.6 509.6 V483.6 H135.1" fill="none" stroke="#3b3b9b" stroke-width="1.4"/>
<path d="M134.6 480.85 L140.1 483.6 L134.6 486.35 Z" fill="#3b3b9b"/>
<path d="M309.9 509.2 V483.2 H314.4" fill="none" stroke="#3b3b9b" stroke-width="1.4"/>
<path d="M313.9 480.45 L319.4 483.2 L313.9 485.95 Z" fill="#3b3b9b"/>
<path d="M406.1 509.2 V483.2 H410.6" fill="none" stroke="#3b3b9b" stroke-width="1.4"/>
<path d="M410.1 480.45 L415.6 483.2 L410.1 485.95 Z" fill="#3b3b9b"/>
<path d="M91.4 586.1 V602.8 H86.4" fill="none" stroke="#3b3b9b" stroke-width="1.4"/>
<path d="M86.9 600.05 L81.4 602.8 L86.9 605.55 Z" fill="#3b3b9b"/>
<path d="M101.5 586.1 V613.7 H96.5" fill="none" stroke="#3b3b9b" stroke-width="1.4"/>
<path d="M97.0 610.95 L91.5 613.7 L97.0 616.45 Z" fill="#3b3b9b"/>
<path d="M129.7 586.1 V613.7 H124.69999999999999" fill="none" stroke="#3b3b9b" stroke-width="1.4"/>
<path d="M125.19999999999999 610.95 L119.69999999999999 613.7 L125.19999999999999 616.45 Z" fill="#3b3b9b"/>
<path d="M261.9 586.1 V603.8 H256.9" fill="none" stroke="#3b3b9b" stroke-width="1.4"/>
<path d="M257.4 601.05 L251.89999999999998 603.8 L257.4 606.55 Z" fill="#3b3b9b"/>
<path d="M264.6 586.1 V613.8 H259.6" fill="none" stroke="#3b3b9b" stroke-width="1.4"/>
<path d="M260.1 611.05 L254.60000000000002 613.8 L260.1 616.55 Z" fill="#3b3b9b"/>
<path d="M43.5 534.6 H47.8 L51.3 541.35 L47.8 548.1 H43.5 Z" fill="#923a40" stroke="#1a1a1a" stroke-width="1.2" stroke-linejoin="miter"/>
<path d="M52.0 534.6 H68.4 L71.9 541.35 L68.4 548.1 H52.0 Z" fill="#923a40" stroke="#1a1a1a" stroke-width="1.2" stroke-linejoin="miter"/>
<path d="M72.3 534.6 H77.1 L80.6 541.35 L77.1 548.1 H72.3 Z" fill="#923a40" stroke="#1a1a1a" stroke-width="1.2" stroke-linejoin="miter"/>
<path d="M81.1 534.6 H82.4 L84.3 541.35 L82.4 548.1 H81.1 Z" fill="#923a40" stroke="#1a1a1a" stroke-width="1.2" stroke-linejoin="miter"/>
<path d="M130.3 534.6 H135.1 L138.6 541.35 L135.1 548.1 H130.3 Z" fill="#923a40" stroke="#1a1a1a" stroke-width="1.2" stroke-linejoin="miter"/>
<path d="M139.2 534.6 H148.8 L152.3 541.35 L148.8 548.1 H139.2 Z" fill="#923a40" stroke="#1a1a1a" stroke-width="1.2" stroke-linejoin="miter"/>
<path d="M153.0 534.6 H162.3 L165.8 541.35 L162.3 548.1 H153.0 Z" fill="#923a40" stroke="#1a1a1a" stroke-width="1.2" stroke-linejoin="miter"/>
<path d="M166.5 534.6 H210.8 L214.3 541.35 L210.8 548.1 H166.5 Z" fill="#923a40" stroke="#1a1a1a" stroke-width="1.2" stroke-linejoin="miter"/>
<path d="M214.9 534.6 H218.6 L222.1 541.35 L218.6 548.1 H214.9 Z" fill="#923a40" stroke="#1a1a1a" stroke-width="1.2" stroke-linejoin="miter"/>
<path d="M222.8 534.6 H224.7 L227.6 541.35 L224.7 548.1 H222.8 Z" fill="#923a40" stroke="#1a1a1a" stroke-width="1.2" stroke-linejoin="miter"/>
<path d="M228.3 534.6 H233.1 L236.6 541.35 L233.1 548.1 H228.3 Z" fill="#923a40" stroke="#1a1a1a" stroke-width="1.2" stroke-linejoin="miter"/>
<path d="M237.3 534.6 H253.0 L256.5 541.35 L253.0 548.1 H237.3 Z" fill="#923a40" stroke="#1a1a1a" stroke-width="1.2" stroke-linejoin="miter"/>
<path d="M257.2 534.6 H261.9 L265.4 541.35 L261.9 548.1 H257.2 Z" fill="#923a40" stroke="#1a1a1a" stroke-width="1.2" stroke-linejoin="miter"/>
<path d="M266.1 534.6 H268.3 L271.6 541.35 L268.3 548.1 H266.1 Z" fill="#923a40" stroke="#1a1a1a" stroke-width="1.2" stroke-linejoin="miter"/>
<path d="M89.1 548.1 H87.5 L85.0 554.75 L87.5 561.4 H89.1 Z" fill="#923a40" stroke="#1a1a1a" stroke-width="1.2" stroke-linejoin="miter"/>
<path d="M100.1 548.1 H93.3 L89.8 554.75 L93.3 561.4 H100.1 Z" fill="#923a40" stroke="#1a1a1a" stroke-width="1.2" stroke-linejoin="miter"/>
<path d="M107.0 548.1 H104.3 L100.8 554.75 L104.3 561.4 H107.0 Z" fill="#923a40" stroke="#1a1a1a" stroke-width="1.2" stroke-linejoin="miter"/>
<path d="M114.5 548.1 H111.1 L107.6 554.75 L111.1 561.4 H114.5 Z" fill="#923a40" stroke="#1a1a1a" stroke-width="1.2" stroke-linejoin="miter"/>
<path d="M126.2 548.1 H118.7 L115.2 554.75 L118.7 561.4 H126.2 Z" fill="#923a40" stroke="#1a1a1a" stroke-width="1.2" stroke-linejoin="miter"/>
<path d="M129.2 548.1 H128.3 L126.9 554.75 L128.3 561.4 H129.2 Z" fill="#923a40" stroke="#1a1a1a" stroke-width="1.2" stroke-linejoin="miter"/>
<path d="M41.7 548.1 H39.9 L37.1 554.75 L39.9 561.4 H41.7 Z" fill="#8a8a8a" stroke="#1a1a1a" stroke-width="1.2" stroke-linejoin="miter"/>
<path d="M315.0 535 H320.4 L323.9 541.5 L320.4 548 H315.0 Z" fill="#d5c556" stroke="#1a1a1a" stroke-width="1.2" stroke-linejoin="miter"/>
<path d="M324.8 535 H347.3 L350.8 541.5 L347.3 548 H324.8 Z" fill="#d5c556" stroke="#1a1a1a" stroke-width="1.2" stroke-linejoin="miter"/>
<path d="M351.5 535 H382.8 L386.3 541.5 L382.8 548 H351.5 Z" fill="#d5c556" stroke="#1a1a1a" stroke-width="1.2" stroke-linejoin="miter"/>
<ellipse cx="312.4" cy="541.5" rx="1.3" ry="6" fill="none" stroke="#111" stroke-width="1"/>
<path d="M410.0 535 H427.0 L430.5 541.5 L427.0 548 H410.0 Z" fill="#d5c556" stroke="#1a1a1a" stroke-width="1.2" stroke-linejoin="miter"/>
<path d="M431.4 535 H453.0 L456.5 541.5 L453.0 548 H431.4 Z" fill="#d5c556" stroke="#1a1a1a" stroke-width="1.2" stroke-linejoin="miter"/>
<path d="M457.4 535 H463.4 L466.9 541.5 L463.4 548 H457.4 Z" fill="#d5c556" stroke="#1a1a1a" stroke-width="1.2" stroke-linejoin="miter"/>
<rect x="296.2" y="548" width="9.1" height="14.8" fill="#8a8a8a" stroke="#111" stroke-width="1.1"/>
<rect x="397.6" y="548" width="9.1" height="14.8" fill="#8a8a8a" stroke="#111" stroke-width="1.1"/>
<line x1="44.8" y1="529.5" x2="44.8" y2="534.6" stroke="#111" stroke-width="1.1" />
<line x1="132.0" y1="529.5" x2="132.0" y2="534.6" stroke="#111" stroke-width="1.1" />
<line x1="267.5" y1="529.5" x2="267.5" y2="534.6" stroke="#111" stroke-width="1.1" />
<line x1="86.3" y1="561.4" x2="86.3" y2="567" stroke="#111" stroke-width="1.1" />
<line x1="128.3" y1="561.4" x2="128.3" y2="567" stroke="#111" stroke-width="1.1" />
<line x1="414.2" y1="530" x2="414.2" y2="535" stroke="#111" stroke-width="1.1" />
<line x1="311.9" y1="530" x2="311.9" y2="535.5" stroke="#111" stroke-width="1.1" />
<text x="34.7" y="526.8" font-size="15.5" text-anchor="start" fill="#111" stroke="#111" stroke-width="0.2"  style="font-style:italic">SCO5877</text>
<text x="113.7" y="526.8" font-size="15.5" text-anchor="start" fill="#111" stroke="#111" stroke-width="0.2"  style="font-style:italic">SCO5888</text>
<text x="211.6" y="526.8" font-size="15.5" text-anchor="start" fill="#111" stroke="#111" stroke-width="0.2"  style="font-style:italic">SCO5898</text>
<text x="47.1" y="579.4" font-size="15.5" text-anchor="start" fill="#111" stroke="#111" stroke-width="0.2"  style="font-style:italic">SCO5881</text>
<text x="124.4" y="579.4" font-size="15.5" text-anchor="start" fill="#111" stroke="#111" stroke-width="0.2"  style="font-style:italic">SCO5887</text>
<text x="295.3" y="528.4" font-size="15.5" text-anchor="start" fill="#111" stroke="#111" stroke-width="0.2"  style="font-style:italic">SCO0753</text>
<text x="395.1" y="528.4" font-size="15.5" text-anchor="start" fill="#111" stroke="#111" stroke-width="0.2"  style="font-style:italic">SCO5799</text>
<text x="41.1" y="478" font-size="15.5" text-anchor="start" fill="#111" stroke="#111" stroke-width="0.2"  style="">6,432,601</text>
<text x="63.1" y="499" font-size="15.5" text-anchor="start" fill="#111" stroke="#111" stroke-width="0.2"  style="">6,433,591</text>
<text x="130.1" y="478" font-size="15.5" text-anchor="start" fill="#111" stroke="#111" stroke-width="0.2"  style="">6,444,567</text>
<text x="307.7" y="478" font-size="15.5" text-anchor="start" fill="#111" stroke="#111" stroke-width="0.2"  style="">796,462</text>
<text x="405.2" y="478" font-size="15.5" text-anchor="start" fill="#111" stroke="#111" stroke-width="0.2"  style="">6,338,652</text>
<text x="31.1" y="599.6" font-size="15.5" text-anchor="start" fill="#111" stroke="#111" stroke-width="0.2"  style="">6,438,972</text>
<text x="41.6" y="630" font-size="15.5" text-anchor="start" fill="#111" stroke="#111" stroke-width="0.2"  style="">6,440,437</text>
<text x="115.8" y="630" font-size="15.5" text-anchor="start" fill="#111" stroke="#111" stroke-width="0.2"  style="">6,444,315</text>
<text x="182.4" y="608.6" font-size="15.5" text-anchor="start" fill="#111" stroke="#111" stroke-width="0.2"  style="">6,462,763</text>
<text x="206.1" y="630" font-size="15.5" text-anchor="start" fill="#111" stroke="#111" stroke-width="0.2"  style="">6,463,084</text>
<text x="0" y="0" font-size="15.5" text-anchor="middle" fill="#111" stroke="#111" stroke-width="0.2" transform="translate(22 490) rotate(-90)" style="">TSS</text>
<text x="0" y="0" font-size="15.5" text-anchor="middle" fill="#111" stroke="#111" stroke-width="0.2" transform="translate(22 613) rotate(-90)" style="">TSS</text>
<path d="M201.8 643.2 H217 M256 643.2 H272.2 M201.8 639.2 V647.2 M272.2 639.2 V647.2" stroke="#111" stroke-width="1.3" fill="none"/>
<text x="237.5" y="648.7" font-size="15.5" text-anchor="middle" fill="#111" stroke="#111" stroke-width="0.2"  style="">10 <tspan dx="-1.6">kb</tspan></text>
<path d="M321.6 643 H339 M370 643 H385.6 M321.6 639 V647 M385.6 639 V647" stroke="#111" stroke-width="1.3" fill="none"/>
<text x="355.5" y="648.5" font-size="15.5" text-anchor="middle" fill="#111" stroke="#111" stroke-width="0.2"  style="">5 <tspan dx="-1.6">kb</tspan></text>
<path d="M405 643 H422.5 M453.5 643 H469.1 M405 639 V647 M469.1 639 V647" stroke="#111" stroke-width="1.3" fill="none"/>
<text x="439.0" y="648.5" font-size="15.5" text-anchor="middle" fill="#111" stroke="#111" stroke-width="0.2"  style="">5 <tspan dx="-1.6">kb</tspan></text>
<rect x="563.40" y="500.2" width="23.84" height="13.60" fill="#66a04c"/>
<rect x="587.24" y="500.2" width="65.21" height="13.60" fill="#e09f42"/>
<rect x="652.45" y="500.2" width="25.53" height="13.60" fill="#9b2a31"/>
<rect x="677.98" y="500.2" width="39.22" height="13.60" fill="#2e4b9b"/>
<rect x="563.40" y="523.9" width="12.15" height="13.40" fill="#66a04c"/>
<rect x="575.55" y="523.9" width="20.61" height="13.40" fill="#e09f42"/>
<rect x="596.16" y="523.9" width="36.30" height="13.40" fill="#9b2a31"/>
<rect x="632.46" y="523.9" width="84.74" height="13.40" fill="#2e4b9b"/>
<rect x="563.40" y="547.5" width="60.44" height="14.00" fill="#66a04c"/>
<rect x="623.84" y="547.5" width="74.75" height="14.00" fill="#e09f42"/>
<rect x="698.59" y="547.5" width="4.31" height="14.00" fill="#9b2a31"/>
<rect x="702.90" y="547.5" width="14.30" height="14.00" fill="#2e4b9b"/>
<rect x="563.40" y="571.3" width="23.84" height="13.20" fill="#66a04c"/>
<rect x="587.24" y="571.3" width="30.91" height="13.20" fill="#e09f42"/>
<rect x="618.15" y="571.3" width="63.52" height="13.20" fill="#9b2a31"/>
<rect x="681.67" y="571.3" width="35.53" height="13.20" fill="#2e4b9b"/>
<rect x="563.40" y="594.4" width="21.07" height="13.20" fill="#66a04c"/>
<rect x="584.47" y="594.4" width="73.98" height="13.20" fill="#e09f42"/>
<rect x="658.45" y="594.4" width="19.53" height="13.20" fill="#9b2a31"/>
<rect x="677.98" y="594.4" width="39.22" height="13.20" fill="#2e4b9b"/>
<line x1="587.24" y1="513.8" x2="575.55" y2="523.9" stroke="#6a6a6a" stroke-width="1.3" stroke-dasharray="1.8 1.8"/>
<line x1="652.45" y1="513.8" x2="596.16" y2="523.9" stroke="#6a6a6a" stroke-width="1.3" stroke-dasharray="1.8 1.8"/>
<line x1="677.98" y1="513.8" x2="632.46" y2="523.9" stroke="#6a6a6a" stroke-width="1.3" stroke-dasharray="1.8 1.8"/>
<line x1="575.55" y1="537.3" x2="623.84" y2="547.5" stroke="#6a6a6a" stroke-width="1.3" stroke-dasharray="1.8 1.8"/>
<line x1="596.16" y1="537.3" x2="698.59" y2="547.5" stroke="#6a6a6a" stroke-width="1.3" stroke-dasharray="1.8 1.8"/>
<line x1="632.46" y1="537.3" x2="702.90" y2="547.5" stroke="#6a6a6a" stroke-width="1.3" stroke-dasharray="1.8 1.8"/>
<line x1="623.84" y1="561.5" x2="587.24" y2="571.3" stroke="#6a6a6a" stroke-width="1.3" stroke-dasharray="1.8 1.8"/>
<line x1="698.59" y1="561.5" x2="618.15" y2="571.3" stroke="#6a6a6a" stroke-width="1.3" stroke-dasharray="1.8 1.8"/>
<line x1="702.90" y1="561.5" x2="681.67" y2="571.3" stroke="#6a6a6a" stroke-width="1.3" stroke-dasharray="1.8 1.8"/>
<line x1="587.24" y1="584.5" x2="584.47" y2="594.4" stroke="#6a6a6a" stroke-width="1.3" stroke-dasharray="1.8 1.8"/>
<line x1="618.15" y1="584.5" x2="658.45" y2="594.4" stroke="#6a6a6a" stroke-width="1.3" stroke-dasharray="1.8 1.8"/>
<line x1="681.67" y1="584.5" x2="677.98" y2="594.4" stroke="#6a6a6a" stroke-width="1.3" stroke-dasharray="1.8 1.8"/>
<path d="M558.5 613.4 H717.2 V494.1 H563.4 V613.4" fill="none" stroke="#111" stroke-width="1.6"/>
<line x1="563.40" y1="491" x2="563.40" y2="494.1" stroke="#111" stroke-width="1.2" />
<line x1="578.78" y1="491" x2="578.78" y2="494.1" stroke="#111" stroke-width="1.2" />
<line x1="594.16" y1="491" x2="594.16" y2="494.1" stroke="#111" stroke-width="1.2" />
<line x1="609.54" y1="491" x2="609.54" y2="494.1" stroke="#111" stroke-width="1.2" />
<line x1="624.92" y1="491" x2="624.92" y2="494.1" stroke="#111" stroke-width="1.2" />
<line x1="640.30" y1="491" x2="640.30" y2="494.1" stroke="#111" stroke-width="1.2" />
<line x1="655.68" y1="491" x2="655.68" y2="494.1" stroke="#111" stroke-width="1.2" />
<line x1="671.06" y1="491" x2="671.06" y2="494.1" stroke="#111" stroke-width="1.2" />
<line x1="686.44" y1="491" x2="686.44" y2="494.1" stroke="#111" stroke-width="1.2" />
<line x1="701.82" y1="491" x2="701.82" y2="494.1" stroke="#111" stroke-width="1.2" />
<line x1="717.20" y1="491" x2="717.20" y2="494.1" stroke="#111" stroke-width="1.2" />
<text x="563.40" y="484" font-size="15.5" text-anchor="middle" fill="#111" stroke="#111" stroke-width="0.2"  style="">0</text>
<text x="594.16" y="484" font-size="15.5" text-anchor="middle" fill="#111" stroke="#111" stroke-width="0.2"  style="">20</text>
<text x="624.92" y="484" font-size="15.5" text-anchor="middle" fill="#111" stroke="#111" stroke-width="0.2"  style="">40</text>
<text x="655.68" y="484" font-size="15.5" text-anchor="middle" fill="#111" stroke="#111" stroke-width="0.2"  style="">60</text>
<text x="686.44" y="484" font-size="15.5" text-anchor="middle" fill="#111" stroke="#111" stroke-width="0.2"  style="">80</text>
<text x="717.20" y="484" font-size="15.5" text-anchor="middle" fill="#111" stroke="#111" stroke-width="0.2"  style="">100</text>
<line x1="558.5" y1="518.2" x2="563.4" y2="518.2" stroke="#111" stroke-width="1.2" />
<line x1="558.5" y1="542" x2="563.4" y2="542" stroke="#111" stroke-width="1.2" />
<line x1="558.5" y1="566" x2="563.4" y2="566" stroke="#111" stroke-width="1.2" />
<line x1="558.5" y1="590" x2="563.4" y2="590" stroke="#111" stroke-width="1.2" />
<text x="553.5" y="512.3" font-size="15.5" text-anchor="end" fill="#111" stroke="#111" stroke-width="0.2"  style="">−2</text>
<text x="553.5" y="535.8999999999999" font-size="15.5" text-anchor="end" fill="#111" stroke="#111" stroke-width="0.2"  style="">−1</text>
<text x="553.5" y="559.8" font-size="15.5" text-anchor="end" fill="#111" stroke="#111" stroke-width="0.2"  style="">+1</text>
<text x="553.5" y="583.1999999999999" font-size="15.5" text-anchor="end" fill="#111" stroke="#111" stroke-width="0.2"  style="">+2</text>
<text x="553.5" y="606.3" font-size="15.5" text-anchor="end" fill="#111" stroke="#111" stroke-width="0.2"  style="">+3</text>
<text x="640.6" y="460" font-size="15.5" text-anchor="middle" fill="#111" stroke="#111" stroke-width="0.2"  style="">%</text>
<text x="0" y="0" font-size="15.5" text-anchor="middle" fill="#111" stroke="#111" stroke-width="0.2" transform="translate(523 553.5) rotate(-90)" style="">Position</text>
<rect x="563.4" y="620.2" width="7.5" height="7.6" fill="#66a04c"/>
<text x="574.9" y="628.6" font-size="15.5" text-anchor="start" fill="#111" stroke="#111" stroke-width="0.2"  style="">A</text>
<rect x="601.5" y="620.2" width="7.5" height="7.6" fill="#e09f42"/>
<text x="613.3" y="628.6" font-size="15.5" text-anchor="start" fill="#111" stroke="#111" stroke-width="0.2"  style="">G</text>
<rect x="641.7" y="620.2" width="7.5" height="7.6" fill="#9b2a31"/>
<text x="653.9" y="628.6" font-size="15.5" text-anchor="start" fill="#111" stroke="#111" stroke-width="0.2"  style="">T</text>
<rect x="679.8" y="620.2" width="7.5" height="7.6" fill="#2e4b9b"/>
<text x="692.3" y="628.6" font-size="15.5" text-anchor="start" fill="#111" stroke="#111" stroke-width="0.2"  style="">C</text>
</svg></body></html>
